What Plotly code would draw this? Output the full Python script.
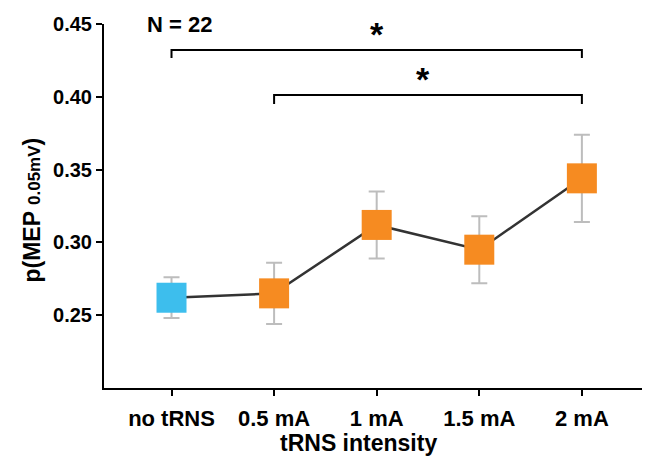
import plotly.graph_objects as go

categories = ["no tRNS", "0.5 mA", "1 mA", "1.5 mA", "2 mA"]
means = [0.262, 0.265, 0.312, 0.295, 0.344]
sems = [0.014, 0.021, 0.023, 0.023, 0.030]
colors = ["#3DBEED", "#F68B21", "#F68B21", "#F68B21", "#F68B21"]
y_ticks = [0.25, 0.30, 0.35, 0.40, 0.45]
y_ticktext = ["0.25", "0.30", "0.35", "0.40", "0.45"]

x = list(range(len(categories)))
FONT = "Liberation Sans"

fig = go.Figure()
fig.add_trace(go.Scatter(x=x, y=means, mode="lines",
                         line=dict(color="#333333", width=2.5),
                         hoverinfo="skip", showlegend=False))
fig.add_trace(go.Scatter(
    x=x, y=means, mode="markers",
    marker=dict(symbol="square", size=30, color=colors, line=dict(width=0)),
    error_y=dict(type="data", array=sems, visible=True,
                 color="#BDBDBD", thickness=2, width=8),
    showlegend=False))

axis_common = dict(showline=True, linecolor="black", linewidth=2,
                   ticks="outside", ticklen=6, tickwidth=2, tickcolor="black",
                   showgrid=False, zeroline=False)

# the page body has an 8px default margin, so the figure is 8px smaller
fig.update_layout(
    width=642, height=453,
    margin=dict(l=96, r=0, t=16, b=73),
    paper_bgcolor="white", plot_bgcolor="white",
    font=dict(family=FONT, color="black"),
    xaxis=dict(range=[-0.658, 4.664], tickvals=x, ticktext=categories,
               tickfont=dict(size=22, weight="bold", family=FONT),
               ticklabelstandoff=4,
               **axis_common),
    yaxis=dict(range=[0.20, 0.45], tickvals=y_ticks, ticktext=y_ticktext,
               tickfont=dict(size=20, weight="bold", family=FONT),
               **axis_common),
)

# significance brackets (no tRNS vs 2 mA, 0.5 mA vs 2 mA)
brackets = [(0, 4, 0.4321, 0.4266), (1, 4, 0.4012, 0.3950)]
for x0, x1, ytop, ydrop in brackets:
    fig.add_shape(type="path",
                  path=f"M {x0},{ydrop} L {x0},{ytop} L {x1},{ytop} L {x1},{ydrop}",
                  line=dict(color="black", width=2), xref="x", yref="y")

fig.add_annotation(x=2.0, y=0.4430, xref="x", yref="y", text="*", showarrow=False,
                   font=dict(size=34, weight="bold", family=FONT), yanchor="middle")
fig.add_annotation(x=2.45, y=0.4120, xref="x", yref="y", text="*", showarrow=False,
                   font=dict(size=34, weight="bold", family=FONT), yanchor="middle")

PW, PH = 546, 364  # plot area size in px
fig.add_annotation(x=(145 - 104) / PW, y=(388 - 24.5) / PH, xref="paper", yref="paper",
                   text="N = 22", showarrow=False, xanchor="left", yanchor="middle",
                   font=dict(size=22, weight="bold", family=FONT))

# axis titles
fig.add_annotation(x=(358 - 104) / PW, y=(388 - 443) / PH, xref="paper", yref="paper",
                   text="tRNS intensity", showarrow=False, xanchor="center", yanchor="middle",
                   font=dict(size=23, weight="bold", family=FONT))
fig.add_annotation(x=(31.5 - 104) / PW, y=(388 - 210) / PH, xref="paper", yref="paper",
                   text="p(MEP <span style='font-size:17px'>0.05mV</span>)",
                   textangle=-90, showarrow=False, xanchor="center", yanchor="middle",
                   font=dict(size=23, weight="bold", family=FONT))

fig.write_html("out.html")
